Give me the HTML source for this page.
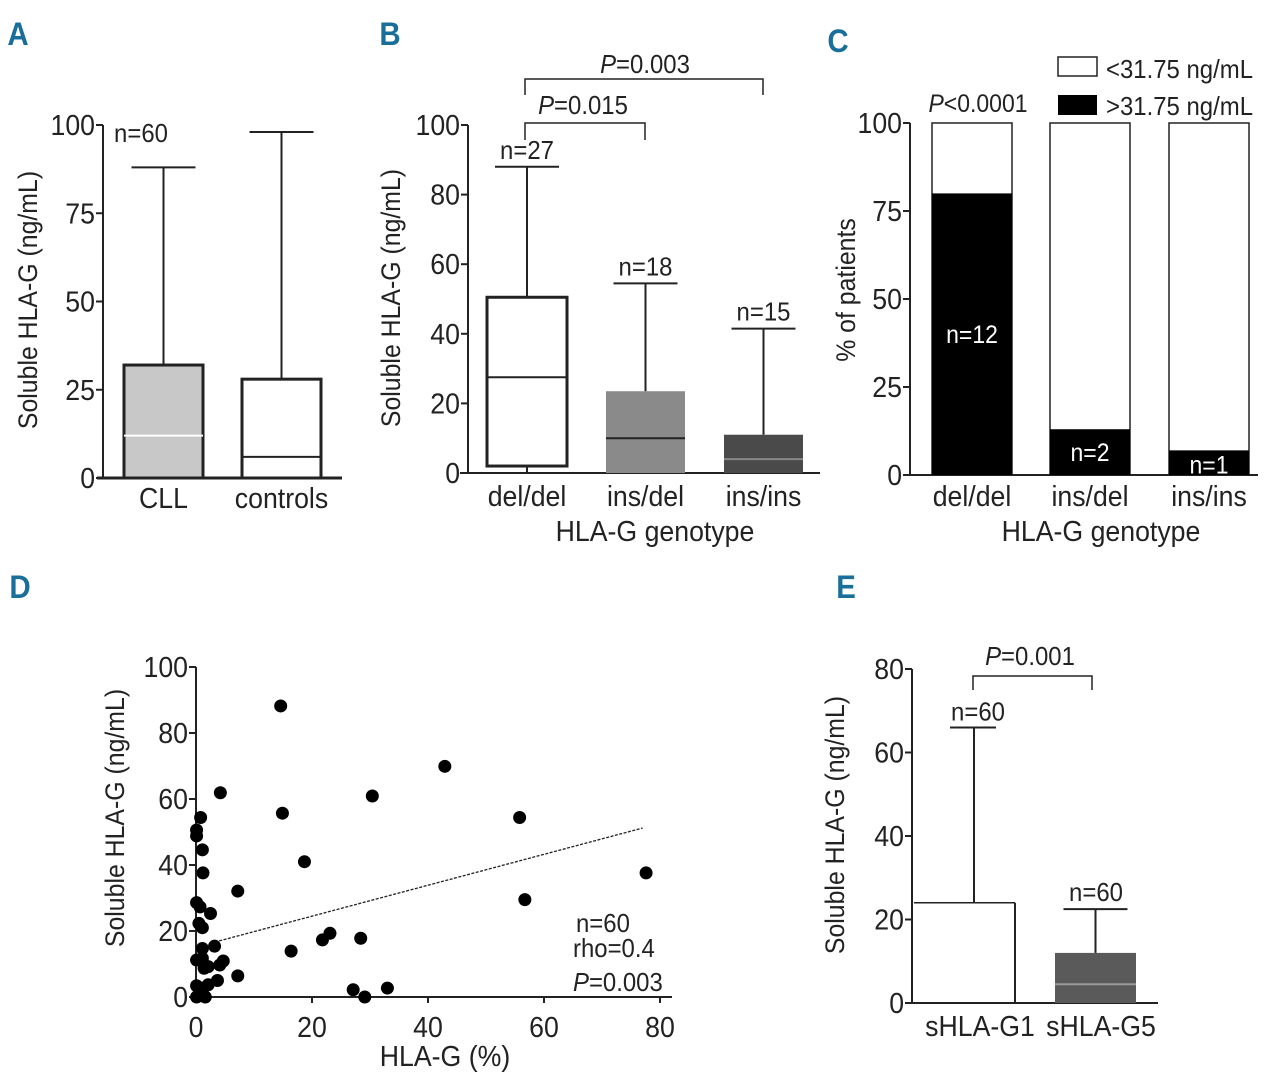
<!DOCTYPE html>
<html><head><meta charset="utf-8"><style>
body{margin:0;background:#fff}
svg{display:block}
text{font-family:"Liberation Sans Narrow","Liberation Sans",sans-serif;fill:#222}
</style></head><body>
<svg id="fig" width="1280" height="1081" viewBox="0 0 1280 1081" xmlns="http://www.w3.org/2000/svg"></svg>
<script>
// Panel A data
const aCats=["CLL","controls"];
const aQ1=[0,0], aMed=[12,6], aQ3=[32,28], aMax=[88,98];
const aTicks=[0,25,50,75,100];
// Panel B data
const bCats=["del/del","ins/del","ins/ins"];
const bQ1=[2,0,0], bMed=[27.5,10,4], bQ3=[50.5,23.5,11], bMax=[88,54.5,41.5];
const bN=["n=27","n=18","n=15"];
const bTicks=[0,20,40,60,80,100];
// Panel C data
const cCats=["del/del","ins/del","ins/ins"];
const cHigh=[80,13,7];
const cN=["n=12","n=2","n=1"];
const cTicks=[0,25,50,75,100];
// Panel D data
const dX=[14.6,4.2,42.9,30.4,14.9,55.8,0.8,0.1,0.1,1.1,18.7,77.6,1.2,7.2,56.7,0.1,0.7,2.5,0.5,1.1,28.4,23.1,21.8,16.4,3.2,1.1,0.1,1.1,4.7,4.1,2.1,1.4,7.2,3.7,2.1,0.1,0.9,27.1,33.0,29.1,0.1,1.6,1.1];
const dY=[88.2,61.9,69.9,60.9,55.7,54.4,54.4,50.6,48.8,44.6,41.0,37.6,37.6,32.1,29.5,28.6,27.3,25.3,22.3,21.0,17.8,19.3,17.3,13.9,15.4,14.7,11.2,11.7,10.9,9.7,9.2,8.7,6.4,5.0,3.7,3.4,2.7,2.2,2.7,0,0,0,1.2];
const dTrendX=[4,77], dTrendY=[17,51.2];
const dXTicks=[0,20,40,60,80], dYTicks=[0,20,40,60,80,100];
// Panel E data
const eCats=["sHLA-G1","sHLA-G5"];
const eQ1=[0,0], eMed=[null,4.5], eQ3=[24,12], eMax=[66,22.5];
const eTicks=[0,20,40,60,80];

const svg=document.getElementById('fig');
const NS="http://www.w3.org/2000/svg";
function el(tag,attrs,parent){const e=document.createElementNS(NS,tag);for(const k in attrs)e.setAttribute(k,attrs[k]);(parent||svg).appendChild(e);return e;}
function txt(s,x,y,size,anchor,parent,extra){const t=el('text',Object.assign({x:x,y:y,'font-size':Math.round(size*1.08),'text-anchor':anchor||'middle'},extra||{}),parent);t.textContent=s;return t;}
function group(name){const g=el('g',{});return g;}
function line(g,x1,y1,x2,y2,w,c){return el('line',{x1:x1,y1:y1,x2:x2,y2:y2,stroke:c||'#222','stroke-width':w||2},g);}

function letter(s,x,y){const t=txt(s,x,y,30,'middle',svg,{'font-weight':'bold'});t.setAttribute('fill','#1a6e9a');t.style.fill='#1a6e9a';}
letter('A',18,45);letter('B',390,45);letter('C',838,52);letter('D',20,598);letter('E',846,598);

function yAxis(g,ax,y0,y1,vmin,vmax,ticks,xl,title,tx,ty){
  const sy=v=>y0-(v-vmin)/(vmax-vmin)*(y0-y1);
  line(g,ax,y0,ax,sy(vmax),2);
  ticks.forEach(t=>{line(g,ax-7,sy(t),ax,sy(t),2);const l=txt(String(t),ax-8,sy(t)+10,27,'end',g);});
  const tt=txt(title,tx,ty,25,'middle',g,{transform:'rotate(-90 '+tx+' '+ty+')'});
  
  return sy;
}
function boxplot(g,x1,x2,q1,med,q3,mx,fill,sy,medColor,border){
  const cx=(x1+x2)/2;
  line(g,cx,sy(q3),cx,sy(mx),2);
  line(g,cx-32,sy(mx),cx+32,sy(mx),2);
  const r=el('rect',{x:x1,y:sy(q3),width:x2-x1,height:sy(q1)-sy(q3),fill:fill,stroke:border===false?'none':'#222','stroke-width':3},g);
  
  if(med!=null)line(g,x1,sy(med),x2,sy(med),2,medColor||'#222');
  if(q1>0)line(g,cx,sy(q1),cx,sy(0),2);
}

// Panel A
(function(){
  const g=group('panel-a');
  const sy=yAxis(g,103,478,125,0,100,aTicks,0,'Soluble HLA-G (ng/mL)',37,300);
  line(g,97,478,342,478,3);
  const xs=[[124,203],[242,321]], fills=['#c8c8c8','#fff'], med=['#fff','#222'];
  aCats.forEach((c,i)=>{boxplot(g,xs[i][0],xs[i][1],aQ1[i],aMed[i],aQ3[i],aMax[i],fills[i],sy,med[i]);
    const l=txt(c,(xs[i][0]+xs[i][1])/2,508,27,'middle',g);});
  txt('n=60',141,142,24,'middle',g);
})();

// Panel B
(function(){
  const g=group('panel-b');
  const sy=yAxis(g,468,473,125,0,100,bTicks,0,'Soluble HLA-G (ng/mL)',400,298);
  line(g,460,473,820,473,2);
  const xs=[[487,567],[606,685],[724,803]], fills=['#fff','#8a8a8a','#4a4a4a'], med=['#222','#222','#888'];
  bCats.forEach((c,i)=>{boxplot(g,xs[i][0],xs[i][1],bQ1[i],bMed[i],bQ3[i],bMax[i],fills[i],sy,med[i],i===0);
    const cx=(xs[i][0]+xs[i][1])/2;
    txt(bN[i],cx,sy(bMax[i])-8,24,'middle',g);
    const l=txt(c,cx,506,27,'middle',g);});
  txt('HLA-G genotype',655,541,27,'middle',g);
  el('path',{d:'M525,140 V123 H645 V140',fill:'none',stroke:'#222','stroke-width':1.5},g);
  el('path',{d:'M525,95 V79 H763 V95',fill:'none',stroke:'#222','stroke-width':1.5},g);
  const t1=txt('',583,114,24,'middle',g);t1.innerHTML='<tspan font-style="italic">P</tspan>=0.015';
  const t2=txt('',645,73,24,'middle',g);t2.innerHTML='<tspan font-style="italic">P</tspan>=0.003';
})();

// Panel C
(function(){
  const g=group('panel-c');
  const sy=yAxis(g,910,475,123,0,100,cTicks,0,'% of patients',855,290);
  line(g,904,475,1258,475,2);
  const xs=[[932,1012],[1050,1130],[1169,1248]];
  cCats.forEach((c,i)=>{
    const b1=el('rect',{x:xs[i][0],y:sy(100),width:80,height:sy(0)-sy(100),fill:'#fff',stroke:'#222','stroke-width':1.5},g);
    
    const b2=el('rect',{x:xs[i][0],y:sy(cHigh[i]),width:80,height:sy(0)-sy(cHigh[i]),fill:'#000'},g);
    
    const cx=xs[i][0]+40;
    const ny=(sy(cHigh[i])+sy(0))/2+(i===2?11:9);
    const n=txt(cN[i],cx,ny,23,'middle',g);n.style.fill='#fff';
    const l=txt(c,cx,506,27,'middle',g);
  });
  txt('HLA-G genotype',1101,541,27,'middle',g);
  const t=txt('',978,112,23,'middle',g);t.innerHTML='<tspan font-style="italic">P</tspan>&lt;0.0001';
  const lg=group('legend');g.appendChild(lg);
  el('rect',{x:1058,y:57,width:39,height:19,fill:'#fff',stroke:'#222','stroke-width':1.5},lg);
  el('rect',{x:1058,y:95,width:39,height:20,fill:'#000'},lg);
  txt('<31.75 ng/mL',1106,78,24,'start',lg);
  txt('>31.75 ng/mL',1106,115,24,'start',lg);
})();

// Panel D
(function(){
  const g=group('panel-d');
  const sx=v=>196+v*5.8;
  const sy=yAxis(g,196,997,667,0,100,dYTicks,0,'Soluble HLA-G (ng/mL)',124,818);
  line(g,192,997,672,997,2);
  dXTicks.forEach(t=>{line(g,sx(t),997,sx(t),1003,2);const l=txt(String(t),sx(t),1037,27,'middle',g);});
  txt('HLA-G (%)',445,1066,27,'middle',g);
  const tl=el('line',{x1:sx(dTrendX[0]),y1:sy(dTrendY[0]),x2:sx(dTrendX[1]),y2:sy(dTrendY[1]),stroke:'#222','stroke-width':1.3,'stroke-dasharray':'3,1.5'},g);
  
  dX.forEach((x,i)=>{const c=el('circle',{cx:sx(x),cy:sy(dY[i]),r:6.5,fill:'#000'},g);
    });
  txt('n=60',576,932,24,'start',g);
  txt('rho=0.4',573,957,24,'start',g);
  const t=txt('',573,991,24,'start',g);t.innerHTML='<tspan font-style="italic">P</tspan>=0.003';
})();

// Panel E
(function(){
  const g=group('panel-e');
  const sy=yAxis(g,912,1003,669,0,80,eTicks,0,'Soluble HLA-G (ng/mL)',844,825);
  line(g,906,1003,1158,1003,2);
  line(g,974,sy(eQ3[0]),974,sy(eMax[0]),2);
  line(g,950,sy(eMax[0]),996,sy(eMax[0]),2);
  line(g,914,sy(eQ3[0]),1015,sy(eQ3[0]),1.5);
  line(g,1015,sy(eQ3[0]),1015,sy(eQ1[0]),2);
  txt('n=60',978,sy(eMax[0])-7,24,'middle',g);
  boxplot(g,1055,1136,eQ1[1],eMed[1],eQ3[1],eMax[1],'#5a5a5a',sy,'#999',false);
  txt('n=60',1096,sy(eMax[1])-8,24,'middle',g);
  const xs=[980,1101];
  eCats.forEach((c,i)=>{const l=txt(c,xs[i],1036,27,'middle',g);});
  el('path',{d:'M973,690 V676 H1092 V690',fill:'none',stroke:'#222','stroke-width':1.5},g);
  const t=txt('',1030,665,24,'middle',g);t.innerHTML='<tspan font-style="italic">P</tspan>=0.001';
})();

// condense text to mimic the narrow font of the reference
document.querySelectorAll('text').forEach(t=>{
  const L=t.getComputedTextLength();
  if(L>0){t.setAttribute('textLength',(L*0.92).toFixed(1));t.setAttribute('lengthAdjust','spacingAndGlyphs');}
});
</script>
</body></html>
